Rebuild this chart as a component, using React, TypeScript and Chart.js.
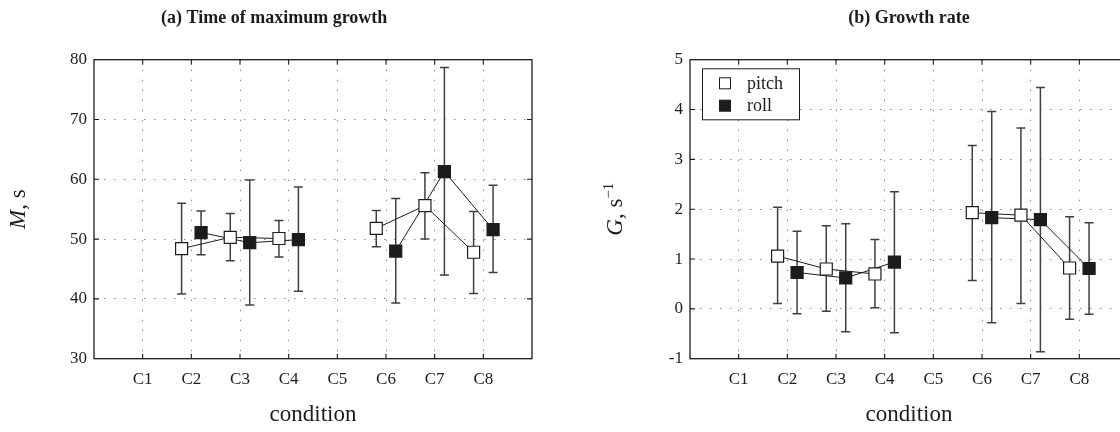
import { useEffect, useRef } from 'react';
import { Chart, registerables } from 'chart.js';

Chart.register(...registerables);

// conditions along the x axis
const conditions = ['C1', 'C2', 'C3', 'C4', 'C5', 'C6', 'C7', 'C8'];

// (a) time of maximum growth, M in s
const pitchM = [null, 48.4, 50.3, 50.1, null, 51.8, 55.6, 47.8];
const pitchMLow = [null, 40.8, 46.4, 47.0, null, 48.7, 50.0, 40.9];
const pitchMHigh = [null, 56.0, 54.3, 53.1, null, 54.8, 61.1, 54.6];
const rollM = [null, 51.1, 49.4, 49.9, null, 48.0, 61.3, 51.6];
const rollMLow = [null, 47.4, 39.0, 41.3, null, 39.3, 44.0, 44.4];
const rollMHigh = [null, 54.7, 59.9, 58.7, null, 56.8, 78.7, 59.0];

// (b) growth rate, G in 1/s
const pitchG = [null, 1.06, 0.8, 0.7, null, 1.93, 1.88, 0.82];
const pitchGLow = [null, 0.11, -0.05, 0.02, null, 0.57, 0.11, -0.21];
const pitchGHigh = [null, 2.04, 1.67, 1.39, null, 3.28, 3.63, 1.85];
const rollG = [null, 0.73, 0.62, 0.94, null, 1.83, 1.79, 0.81];
const rollGLow = [null, -0.1, -0.46, -0.48, null, -0.28, -0.86, -0.11];
const rollGHigh = [null, 1.56, 1.71, 2.35, null, 3.96, 4.44, 1.73];

const SERIF = '"Liberation Serif", "Times New Roman", "DejaVu Serif", serif';
const INK = '#1c1c1c';
const HEIGHT = 432;
const AREA_TOP = 59.7;
const AREA_BOTTOM = 358.7;
const SHIFT = 0.2; // pitch left of the tick, roll right of it

type Value = number | null;
type LabelPart = { text: string; font: string; raise?: number };
type Series = { label: string; values: Value[]; low: Value[]; high: Value[]; fill: string; shift: number };

type PanelProps = {
  left: number;
  width: number;
  areaLeft: number;
  areaRight: number;
  yMin: number;
  yMax: number;
  yStep: number;
  title: string;
  titleX: number;
  titleAlign: CanvasTextAlign;
  yLabel: LabelPart[];
  yLabelX: number;
  series: Series[];
  legend?: boolean;
};

function drawRotated(ctx: CanvasRenderingContext2D, x: number, y: number, parts: LabelPart[]) {
  ctx.save();
  ctx.translate(x, y);
  ctx.rotate(-Math.PI / 2);
  ctx.textAlign = 'left';
  ctx.textBaseline = 'alphabetic';
  let total = 0;
  const widths = parts.map(p => {
    ctx.font = p.font;
    const w = ctx.measureText(p.text).width;
    total += w;
    return w;
  });
  let cx = -total / 2;
  parts.forEach((p, i) => {
    ctx.font = p.font;
    ctx.fillText(p.text, cx, -(p.raise || 0));
    cx += widths[i];
  });
  ctx.restore();
}

function Panel(props: PanelProps) {
  const canvasRef = useRef<HTMLCanvasElement | null>(null);
  const chartRef = useRef<Chart | null>(null);

  useEffect(() => {
    if (!canvasRef.current) return;
    const { width, areaLeft, areaRight, yMin, yMax, yStep, title, titleX, titleAlign, yLabel, yLabelX, series, legend } = props;

    const decor = {
      id: 'decor',
      beforeDatasetsDraw(chart: any) {
        const ctx = chart.ctx as CanvasRenderingContext2D;
        const ys = chart.scales.y;
        ctx.save();
        ctx.strokeStyle = '#404040';
        ctx.lineWidth = 1.5;
        series.forEach((s, d) => {
          const meta = chart.getDatasetMeta(d);
          s.values.forEach((v, i) => {
            const lo = s.low[i];
            const hi = s.high[i];
            if (v == null || lo == null || hi == null) return;
            const x = meta.data[i].x;
            const y1 = ys.getPixelForValue(lo);
            const y2 = ys.getPixelForValue(hi);
            ctx.beginPath();
            ctx.moveTo(x, y1);
            ctx.lineTo(x, y2);
            ctx.moveTo(x - 4.5, y1);
            ctx.lineTo(x + 4.5, y1);
            ctx.moveTo(x - 4.5, y2);
            ctx.lineTo(x + 4.5, y2);
            ctx.stroke();
          });
        });
        ctx.restore();
      },
      afterDraw(chart: any) {
        const ctx = chart.ctx as CanvasRenderingContext2D;
        const a = chart.chartArea;
        const xs = chart.scales.x;
        const ys = chart.scales.y;
        ctx.save();

        // frame with inward tick marks
        ctx.strokeStyle = INK;
        ctx.lineWidth = 1.3;
        ctx.strokeRect(a.left, a.top, a.right - a.left, a.bottom - a.top);
        ctx.lineWidth = 1.1;
        ctx.beginPath();
        xs.ticks.forEach((t: any) => {
          if (t.value <= 0 || t.value >= 9) return;
          const px = xs.getPixelForValue(t.value);
          ctx.moveTo(px, a.bottom);
          ctx.lineTo(px, a.bottom - 5);
          ctx.moveTo(px, a.top);
          ctx.lineTo(px, a.top + 5);
        });
        ys.ticks.forEach((t: any) => {
          if (t.value <= yMin || t.value >= yMax) return;
          const py = ys.getPixelForValue(t.value);
          ctx.moveTo(a.left, py);
          ctx.lineTo(a.left + 5, py);
          ctx.moveTo(a.right, py);
          ctx.lineTo(a.right - 5, py);
        });
        ctx.stroke();

        // title
        ctx.fillStyle = INK;
        ctx.font = `bold 18px ${SERIF}`;
        ctx.textAlign = titleAlign;
        ctx.textBaseline = 'alphabetic';
        ctx.fillText(title, titleX, 23);

        // x axis label
        ctx.font = `23px ${SERIF}`;
        ctx.textAlign = 'center';
        ctx.fillText('condition', (a.left + a.right) / 2, 421);

        // y axis label
        drawRotated(ctx, yLabelX, (a.top + a.bottom) / 2, yLabel);

        // legend inside the plot area
        if (legend) {
          const bx = a.left + 12;
          const by = a.top + 8.6;
          ctx.fillStyle = '#ffffff';
          ctx.fillRect(bx, by, 97, 51);
          ctx.strokeStyle = INK;
          ctx.lineWidth = 1;
          ctx.strokeRect(bx + 0.5, by + 0.5, 97, 51);
          series.forEach((s, k) => {
            const cy = by + 15 + k * 22.4;
            const mx = bx + 23;
            ctx.fillStyle = s.fill;
            ctx.fillRect(mx - 5.5, cy - 5.5, 11, 11);
            ctx.strokeRect(mx - 5.5, cy - 5.5, 11, 11);
            ctx.fillStyle = INK;
            ctx.font = `18px ${SERIF}`;
            ctx.textAlign = 'left';
            ctx.textBaseline = 'middle';
            ctx.fillText(s.label, bx + 45, cy + 1);
          });
        }
        ctx.restore();
      },
    };

    const gridColor = (c: any) => {
      const v = c.tick ? c.tick.value : null;
      return v == null || v <= c.scale.min || v >= c.scale.max ? 'rgba(0,0,0,0)' : '#8c8c8c';
    };

    const chart = new Chart(canvasRef.current, {
      type: 'line',
      data: {
        datasets: series.map(s => ({
          label: s.label,
          data: s.values.map((v, i) => ({ x: i + 1 + s.shift, y: v })),
          borderColor: INK,
          borderWidth: 1,
          pointStyle: 'rect',
          pointRadius: 8.5,
          pointBackgroundColor: s.fill,
          pointBorderColor: INK,
          pointBorderWidth: 1.2,
          spanGaps: false,
          fill: false,
          tension: 0,
        })),
      },
      options: {
        responsive: true,
        maintainAspectRatio: false,
        animation: false,
        events: [],
        layout: { padding: { top: AREA_TOP, right: width - areaRight, left: 0, bottom: 0 } },
        plugins: { legend: { display: false }, tooltip: { enabled: false }, title: { display: false } },
        scales: {
          x: {
            type: 'linear',
            min: 0,
            max: 9,
            afterFit: (s: any) => {
              s.height = HEIGHT - AREA_BOTTOM;
            },
            ticks: {
              stepSize: 1,
              autoSkip: false,
              maxRotation: 0,
              padding: 11,
              color: INK,
              font: { family: SERIF, size: 17 },
              callback: (v: any) => (v >= 1 && v <= 8 ? conditions[v - 1] : ''),
            },
            grid: { color: gridColor, lineWidth: 1, drawTicks: false },
            border: { display: false, dash: [1.5, 8.5] },
          },
          y: {
            type: 'linear',
            min: yMin,
            max: yMax,
            afterFit: (s: any) => {
              s.width = areaLeft;
            },
            ticks: {
              stepSize: yStep,
              padding: 7,
              color: INK,
              font: { family: SERIF, size: 17 },
              callback: (v: any) => String(v),
            },
            grid: { color: gridColor, lineWidth: 1, drawTicks: false },
            border: { display: false, dash: [1.5, 8.5] },
          },
        },
      },
      plugins: [decor],
    } as any);
    chartRef.current = chart;

    return () => {
      chart.destroy();
      chartRef.current = null;
    };
  }, []);

  return (
    <div style={{ position: 'absolute', left: props.left, top: 0, width: props.width, height: HEIGHT }}>
      <canvas ref={canvasRef} />
    </div>
  );
}

export default function App() {
  return (
    <div
      style={{
        position: 'fixed',
        left: 0,
        top: 0,
        width: 1120,
        height: HEIGHT,
        overflow: 'hidden',
        background: '#ffffff',
      }}
    >
      <Panel
        left={0}
        width={560}
        areaLeft={94}
        areaRight={532}
        yMin={30}
        yMax={80}
        yStep={10}
        title="(a) Time of maximum growth"
        titleX={161}
        titleAlign="left"
        yLabel={[
          { text: 'M', font: `italic 23px ${SERIF}` },
          { text: ', s', font: `23px ${SERIF}` },
        ]}
        yLabelX={25}
        series={[
          { label: 'pitch', values: pitchM, low: pitchMLow, high: pitchMHigh, fill: '#ffffff', shift: -SHIFT },
          { label: 'roll', values: rollM, low: rollMLow, high: rollMHigh, fill: INK, shift: SHIFT },
        ]}
      />
      <Panel
        left={560}
        width={600}
        areaLeft={130}
        areaRight={568}
        yMin={-1}
        yMax={5}
        yStep={1}
        title="(b) Growth rate"
        titleX={349}
        titleAlign="center"
        yLabel={[
          { text: 'G', font: `italic 23px ${SERIF}` },
          { text: ', s', font: `23px ${SERIF}` },
          { text: '\u22121', font: `15px ${SERIF}`, raise: 9 },
        ]}
        yLabelX={62}
        legend
        series={[
          { label: 'pitch', values: pitchG, low: pitchGLow, high: pitchGHigh, fill: '#ffffff', shift: -SHIFT },
          { label: 'roll', values: rollG, low: rollGLow, high: rollGHigh, fill: INK, shift: SHIFT },
        ]}
      />
    </div>
  );
}
